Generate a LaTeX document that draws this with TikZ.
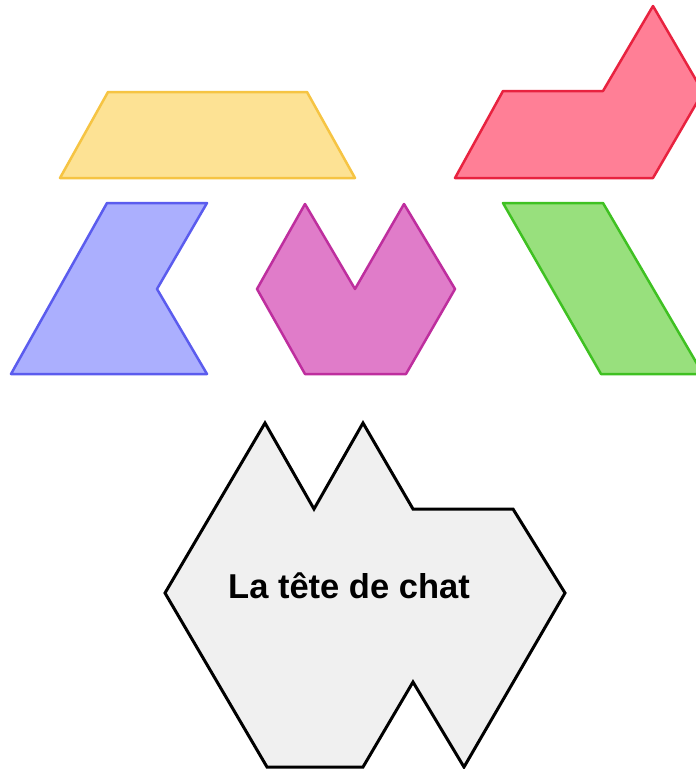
\documentclass[tikz,border=0pt]{standalone}
\usepackage{fontspec}
\setmainfont{Liberation Sans}
\definecolor{yfill}{HTML}{FDE294}
\definecolor{ydraw}{HTML}{F6C443}
\definecolor{rfill}{HTML}{FF7F96}
\definecolor{rdraw}{HTML}{E8223F}
\definecolor{bfill}{HTML}{ABAFFE}
\definecolor{bdraw}{HTML}{5B5CEE}
\definecolor{mfill}{HTML}{E07CC9}
\definecolor{mdraw}{HTML}{BE2E9E}
\definecolor{gfill}{HTML}{98E07D}
\definecolor{gdraw}{HTML}{3FC122}
\definecolor{headfill}{HTML}{F0F0F0}
\tikzset{
  piece/.style={line width=2.5pt, line join=round},
  headpiece/.style={line width=3pt, line join=miter, draw=black, fill=headfill},
}
\begin{document}
\begin{tikzpicture}[x=1pt,y=-1pt]
\useasboundingbox (0,0) rectangle (696,769);
\clip (0,0) rectangle (696,769);
\fill[white] (0,0) rectangle (696,769);
% yellow trapezoid
\draw[piece, draw=ydraw, fill=yfill] (108,92) -- (307,92) -- (355,178) -- (60,178) -- cycle;
% red piece
\draw[piece, draw=rdraw, fill=rfill] (455,178) -- (503,91) -- (603,91) -- (653,6) -- (703,92) -- (653,178) -- cycle;
% blue piece
\draw[piece, draw=bdraw, fill=bfill] (107,203) -- (207,203) -- (157,289) -- (207,374) -- (11,374) -- cycle;
% magenta piece
\draw[piece, draw=mdraw, fill=mfill] (305,204) -- (355,289) -- (404,204) -- (455,289) -- (406,374) -- (305,374) -- (257,289) -- cycle;
% green piece
\draw[piece, draw=gdraw, fill=gfill] (503,203) -- (603,203) -- (703,374) -- (601,374) -- cycle;
% cat head
\draw[headpiece] (265,423) -- (314,509) -- (363,423) -- (413,509) -- (513,509) -- (565,593) -- (464,767) -- (413,682) -- (363,767) -- (267,767) -- (165,593) -- cycle;
\node[font=\bfseries\fontsize{34.5}{40}\selectfont, anchor=base, inner sep=0pt] (title) at (349,598) {La tête de chat};
\end{tikzpicture}
\end{document}
